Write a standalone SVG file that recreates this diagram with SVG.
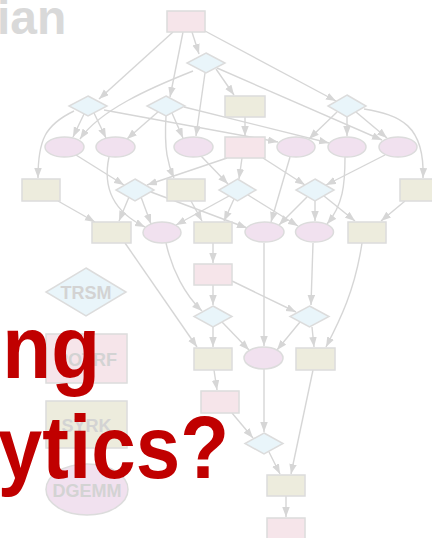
<svg xmlns="http://www.w3.org/2000/svg" width="432" height="538" viewBox="0 0 432 538">
  <style>
    .edge { fill: none; stroke: #d6d6d6; stroke-width: 1.4; marker-end: url(#arrow); }
    .potrf { fill: #f6e5ea; stroke: #dcdcdc; stroke-width: 1.5; }
    .syrk { fill: #edecdd; stroke: #dcdcdc; stroke-width: 1.5; }
    .trsm { fill: #e9f5fa; stroke: #dcdcdc; stroke-width: 1.5; }
    .gemm { fill: #f1e1ef; stroke: #dcdcdc; stroke-width: 1.5; }
    .key { font-family: "Liberation Sans", Arial, sans-serif; font-weight: bold; font-size: 18px; fill: #d3d3d3; text-anchor: middle; }
    .title { font-family: "Liberation Sans", Arial, sans-serif; font-weight: bold; }
  </style>
  <defs>
    <marker id="arrow" markerUnits="userSpaceOnUse" markerWidth="11" markerHeight="8" refX="10" refY="3.75" orient="auto">
      <path d="M0,0 L10,3.75 L0,7.5 z" fill="#d6d6d6"/>
    </marker>
  </defs>

  <!-- faded heading fragment -->
  <text class="title" x="-3" y="34" font-size="48" fill="#d9d9d9">ian</text>

  <!-- task dependencies -->
  <g id="edges">
    <path class="edge" d="M192,32 L199,54"/>
    <path class="edge" d="M173,32 L99,99"/>
    <path class="edge" d="M183,32 L170,97"/>
    <path class="edge" d="M205,31 L336,101"/>

    <path class="edge" d="M216,69 L234,95"/>
    <path class="edge" d="M193,71 C150,88 100,110 80,139"/>
    <path class="edge" d="M205,73 L196,136"/>
    <path class="edge" d="M217,68 L382,140"/>

    <path class="edge" d="M84,114 L73,137"/>
    <path class="edge" d="M94,113 L106,138"/>
    <path class="edge" d="M74,111 C45,125 38,140 38,178"/>
    <path class="edge" d="M104,110 L278,142"/>

    <path class="edge" d="M159,111 L127,139"/>
    <path class="edge" d="M172,113 L183,138"/>
    <path class="edge" d="M184,107 L329,143"/>
    <path class="edge" d="M166,116 C164,150 168,165 174,178"/>

    <path class="edge" d="M337,112 L309,139"/>
    <path class="edge" d="M347,117 L347,136"/>
    <path class="edge" d="M356,112 L387,138"/>
    <path class="edge" d="M364,109 C400,115 425,125 423,178"/>

    <path class="edge" d="M245,117 L245,136"/>

    <path class="edge" d="M227,158 L147,185"/>
    <path class="edge" d="M242,158 L239,179"/>
    <path class="edge" d="M263,158 L305,185"/>

    <path class="edge" d="M76,155 L124,185"/>
    <path class="edge" d="M201,156 L228,184"/>
    <path class="edge" d="M385,155 L326,185"/>

    <path class="edge" d="M58,201 L95,222"/>
    <path class="edge" d="M191,201 L202,221"/>
    <path class="edge" d="M405,201 L381,221"/>

    <path class="edge" d="M129,197 L119,221"/>
    <path class="edge" d="M141,197 L151,224"/>
    <path class="edge" d="M151,192 L247,228"/>

    <path class="edge" d="M229,196 L176,225"/>
    <path class="edge" d="M234,199 L224,221"/>
    <path class="edge" d="M248,195 L298,226"/>

    <path class="edge" d="M307,197 L279,225"/>
    <path class="edge" d="M315,201 L315,221"/>
    <path class="edge" d="M324,196 L355,221"/>

    <path class="edge" d="M109,157 C103,185 110,210 145,227"/>
    <path class="edge" d="M290,157 L271,222"/>
    <path class="edge" d="M345,157 C345,185 343,205 327,224"/>

    <path class="edge" d="M213,243 L213,263"/>
    <path class="edge" d="M213,285 L213,305"/>
    <path class="edge" d="M232,281 L296,312"/>
    <path class="edge" d="M166,243 C172,270 185,295 202,311"/>
    <path class="edge" d="M313,243 L311,305"/>

    <path class="edge" d="M125,243 L197,347"/>
    <path class="edge" d="M213,327 L213,347"/>
    <path class="edge" d="M222,322 L249,350"/>
    <path class="edge" d="M300,322 L277,350"/>
    <path class="edge" d="M312,327 L314,347"/>
    <path class="edge" d="M362,243 C355,290 340,320 326,347"/>
    <path class="edge" d="M264,243 L264,346"/>

    <path class="edge" d="M214,370 L217,390"/>
    <path class="edge" d="M232,413 L253,438"/>
    <path class="edge" d="M264,369 L264,432"/>
    <path class="edge" d="M313,370 L291,474"/>
    <path class="edge" d="M269,452 L280,474"/>
    <path class="edge" d="M286,496 L286,517"/>
  </g>

  <!-- step 0 -->
  <g id="potrf0"><rect class="potrf" x="167" y="11" width="38" height="21"/></g>
  <g id="trsm0a"><polygon class="trsm" points="206,53 225,63 206,73 187,63"/></g>
  <g id="trsm0b"><polygon class="trsm" points="88,96 107,106 88,116 69,106"/></g>
  <g id="trsm0c"><polygon class="trsm" points="166,96 185,106 166,116 147,106"/></g>
  <g id="syrk0a"><rect class="syrk" x="225" y="96" width="40" height="21"/></g>
  <g id="trsm0d"><polygon class="trsm" points="347,95 366,106 347,117 328,106"/></g>

  <g id="gemm0a"><ellipse class="gemm" cx="64.5" cy="147" rx="19.5" ry="10"/></g>
  <g id="gemm0b"><ellipse class="gemm" cx="115.5" cy="147" rx="19.5" ry="10"/></g>
  <g id="gemm0c"><ellipse class="gemm" cx="193.5" cy="147" rx="19.5" ry="10"/></g>
  <g id="gemm0d"><ellipse class="gemm" cx="296" cy="147" rx="19" ry="10"/></g>
  <g id="gemm0e"><ellipse class="gemm" cx="347" cy="147" rx="19" ry="10"/></g>
  <g id="gemm0f"><ellipse class="gemm" cx="398" cy="147" rx="19" ry="10"/></g>

  <g id="syrk0b"><rect class="syrk" x="22" y="179" width="38" height="22"/></g>
  <g id="syrk0c"><rect class="syrk" x="167" y="179" width="38" height="22"/></g>
  <g id="syrk0d"><rect class="syrk" x="400" y="179" width="38" height="22"/></g>

  <!-- step 1 -->
  <g id="potrf1"><rect class="potrf" x="225" y="137" width="40" height="21"/></g>
  <g id="trsm1a"><polygon class="trsm" points="135,179 154,190 135,201 116,190"/></g>
  <g id="trsm1b"><polygon class="trsm" points="237.5,179 256,190 237.5,201 219,190"/></g>
  <g id="trsm1c"><polygon class="trsm" points="315,179 334,190 315,201 296,190"/></g>

  <g id="syrk1a"><rect class="syrk" x="92" y="222" width="39" height="21"/></g>
  <g id="gemm1a"><ellipse class="gemm" cx="162" cy="232.5" rx="19" ry="10.5"/></g>
  <g id="syrk1b"><rect class="syrk" x="194" y="222" width="38" height="21"/></g>
  <g id="gemm1b"><ellipse class="gemm" cx="264.5" cy="232" rx="19.5" ry="10"/></g>
  <g id="gemm1c"><ellipse class="gemm" cx="314.5" cy="232" rx="19" ry="10"/></g>
  <g id="syrk1c"><rect class="syrk" x="348" y="222" width="38" height="21"/></g>

  <!-- step 2 -->
  <g id="potrf2"><rect class="potrf" x="194" y="264" width="38" height="21"/></g>
  <g id="trsm2a"><polygon class="trsm" points="213,306 232,316.5 213,327 194,316.5"/></g>
  <g id="trsm2b"><polygon class="trsm" points="309.5,306 329,316.5 309.5,327 290,316.5"/></g>
  <g id="syrk2a"><rect class="syrk" x="194" y="348" width="38" height="22"/></g>
  <g id="gemm2a"><ellipse class="gemm" cx="263.5" cy="358" rx="19.5" ry="11"/></g>
  <g id="syrk2b"><rect class="syrk" x="296" y="348" width="39" height="22"/></g>

  <!-- step 3 -->
  <g id="potrf3"><rect class="potrf" x="201" y="391" width="38" height="22"/></g>
  <g id="trsm3a"><polygon class="trsm" points="264,433 283,443.5 264,454 245,443.5"/></g>
  <g id="syrk3a"><rect class="syrk" x="267" y="475" width="38" height="21"/></g>

  <!-- step 4 -->
  <g id="potrf4"><rect class="potrf" x="267" y="518" width="38" height="21"/></g>

  <!-- kernel key -->
  <g id="key-trsm">
    <polygon class="trsm" points="86,268 126,292 86,316 46,292"/>
    <text class="key" x="86" y="299">TRSM</text>
  </g>
  <g id="key-potrf">
    <rect class="potrf" x="46" y="334" width="81" height="49"/>
    <text class="key" x="86.5" y="366">POTRF</text>
  </g>
  <g id="key-syrk">
    <rect class="syrk" x="46" y="401" width="81" height="47"/>
    <text class="key" x="86.5" y="432">SYRK</text>
  </g>
  <g id="key-dgemm">
    <ellipse class="gemm" cx="87" cy="489.5" rx="41" ry="25.5"/>
    <text class="key" x="87" y="497">DGEMM</text>
  </g>

  <!-- headline overlay -->
  <text class="title" transform="translate(100,378) scale(1,1.12)" text-anchor="end" font-size="80" fill="#c00000">ng</text>
  <text class="title" transform="translate(229,478) scale(1,1.12)" text-anchor="end" font-size="80" fill="#c00000">ytics?</text>
</svg>
